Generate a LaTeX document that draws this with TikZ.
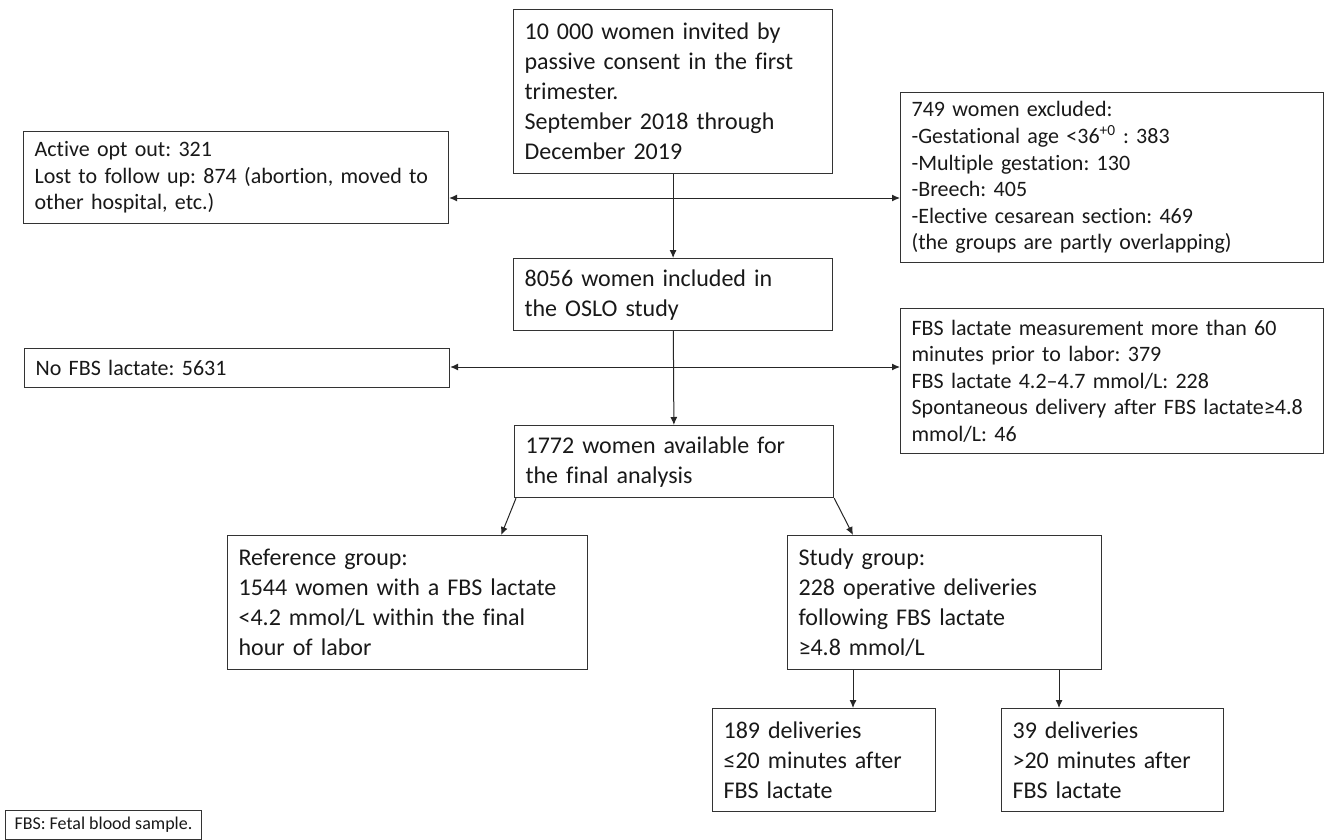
\documentclass[tikz,border=0pt]{standalone}
\usepackage{fontspec}
\setmainfont{Carlito}[Ligatures=NoCommon]
\usepackage{tikz}
\usetikzlibrary{arrows.meta}
\frenchspacing

\begin{document}
\begin{tikzpicture}[x=1pt, y=-1pt,
    main/.style = {draw=black!80, line width=1.2pt, anchor=north west, align=left, inner xsep=11pt, inner ysep=0pt, text=black!90, font=\fontsize{24}{30}\selectfont},
    side/.style = {main, font=\fontsize{22}{26.6}\selectfont},
    arr/.style = {-{Latex[length=8pt,width=7pt]}, line width=1pt, black!85}]
    \path[use as bounding box, fill=white] (0,0) rectangle (1325,840);

    \node[main, text width=297pt, minimum height=164pt] (invite) at (513,9) {10~000 women invited by\\ passive consent in the first\\ trimester.\\ September 2018 through\\ December 2019};
    \node[side, text width=403pt, minimum height=92pt] (optout) at (23,131) {Active opt out: 321\\ Lost to follow up: 874 (abortion, moved to\\ other hospital, etc.)};
    \node[side, text width=401pt, minimum height=170pt] (excl) at (900,92) {749 women excluded:\\ -Gestational age <36\textsuperscript{+0} : 383\\ -Multiple gestation: 130\\ -Breech: 405\\ -Elective cesarean section: 469\\ (the groups are partly overlapping)};
    \node[main, text width=297pt, minimum height=72pt] (incl) at (513,258) {8056 women included in\\ the OSLO study};
    \node[side, text width=403pt, minimum height=39pt] (nofbs) at (24,348) {No FBS lactate: 5631};
    \node[side, text width=401pt, minimum height=145pt] (late) at (900,308) {FBS lactate measurement more than 60\\ minutes prior to labor: 379\\ FBS lactate 4.2--4.7 mmol/L: 228\\ Spontaneous delivery after FBS lactate≥4.8\\ mmol/L: 46};
    \node[main, text width=297pt, minimum height=72pt] (avail) at (514,425) {1772 women available for\\ the final analysis};
    \node[main, text width=338pt, minimum height=134pt] (ref) at (227,535) {Reference group:\\ 1544 women with a FBS lactate\\ <4.2 mmol/L within the final\\ hour of labor};
    \node[main, text width=292pt, minimum height=134pt] (study) at (787,535) {Study group:\\ 228 operative deliveries\\ following FBS lactate\\ ≥4.8 mmol/L};
    \node[main, text width=201pt, minimum height=103pt] (early) at (712,708) {189 deliveries\\ ≤20 minutes after\\ FBS lactate};
    \node[main, text width=200pt, minimum height=103pt] (delayed) at (1001,708) {39 deliveries\\ >20 minutes after\\ FBS lactate};
    \node[main, inner xsep=9pt, minimum height=29pt, line width=1pt, font=\fontsize{18}{21}\selectfont] (note) at (5,810) {FBS: Fetal blood sample.};

    \coordinate (split1) at (672.5,198);
    \coordinate (split2) at (672.5,367);

    \path[arr] (invite) edge (incl);
    \path[arr] (split1) edge (optout.east |- split1);
    \path[arr] (split1) edge (excl.west |- split1);

    \path[arr] (incl) edge (avail);
    \path[arr] (split2) edge (nofbs.east |- split2);
    \path[arr] (split2) edge (late.west |- split2);

    \path[arr] ([xshift=2pt]avail.south west) edge ([xshift=-87pt]ref.north east);
    \path[arr] (avail.south east) edge ([xshift=66pt]study.north west);

    \path[arr] ([xshift=66pt]study.south west) edge ([xshift=66pt]study.south west |- early.north);
    \path[arr] ([xshift=272pt]study.south west) edge ([xshift=272pt]study.south west |- delayed.north);
\end{tikzpicture}
\end{document}
